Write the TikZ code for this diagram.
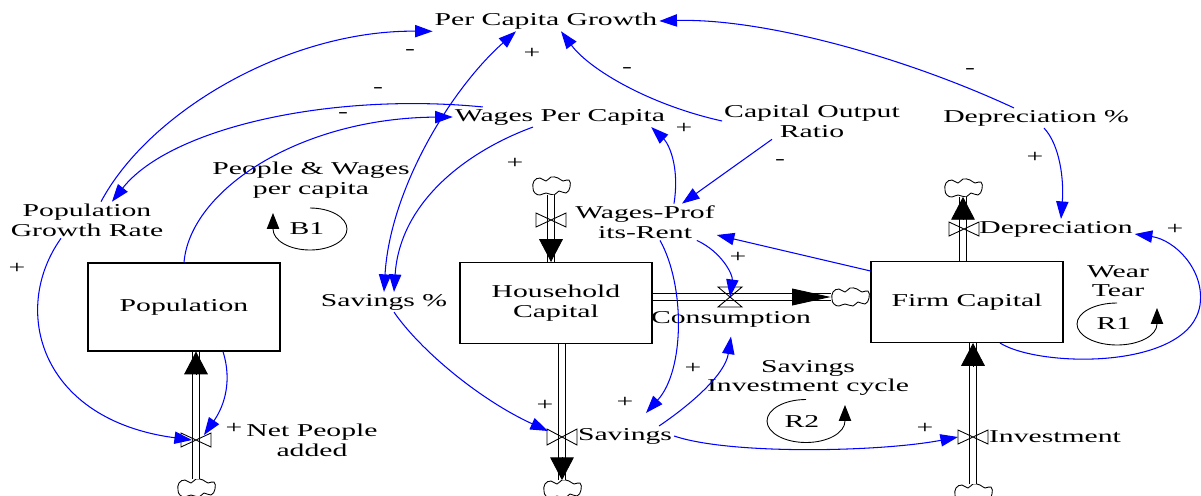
\documentclass[tikz,border=0pt]{standalone}
\usepackage{fontspec}
\setmainfont{Liberation Serif}[FakeStretch=1.64]
\usetikzlibrary{arrows.meta}

\tikzset{
  var/.style={inner sep=1pt, align=center, font=\fontsize{10.3}{11.2}\selectfont},
  stock/.style={var, draw, line width=0.6pt, minimum width=3.84cm},
  sign/.style={inner sep=0pt, font=\fontsize{10.3}{11.2}\selectfont},
  link/.style={blue, line width=0.6pt, -{Triangle[length=10pt,width=7pt]}},
  linkboth/.style={link, {Triangle[length=10pt,width=7pt]}-{Triangle[length=10pt,width=7pt]}},
  pipe/.style={double, double distance=3.2pt, line width=0.5pt},
  pipehead/.style={line width=0.5pt, -{Triangle[length=13pt,width=13.5pt]}},
  pipeheadh/.style={line width=0.5pt, -{Triangle[length=22pt,width=9.6pt]}},
  valve/.style={line width=0.5pt},
  sink/.style={inner sep=0pt, minimum width=0.76cm, minimum height=0.34cm},
  sinkline/.style={line width=0.5pt},
  loopline/.style={line width=0.5pt, -{Triangle[length=9pt,width=7pt]}}
}
\newcommand{\sinkcloud}[1]{\draw[sinkline, shift={(#1)}] plot[smooth cycle, tension=0.8]
  coordinates {(-18,2) (-17,-5) (-11,-8) (-5,-5) (0,-9) (7,-8) (12,-5) (18,-6) (19,1) (15,7) (8,5) (3,9) (-5,7) (-11,9) (-16,7)};}

\begin{document}
\begin{tikzpicture}[x=0.02cm,y=-0.02cm]
  \useasboundingbox (0,0) rectangle (1201,495);

  % stocks
  \node[stock, minimum height=1.76cm] (pop) at (184,307) {Population};
  \node[stock, minimum height=1.62cm] (hh) at (556,303) {Household\\Capital};
  \node[stock, minimum height=1.62cm] (firm) at (967,302) {Firm Capital};

  % variables
  \node[var] (pcg) at (546,21) {Per Capita Growth};
  \node[var] (wpc) at (560,117) {Wages Per Capita};
  \node[var] (cor) at (812,121) {Capital Output\\Ratio};
  \node[var] (dpct) at (1036,118) {Depreciation \%};
  \node[var] (pgr) at (87,220) {Population\\Growth Rate};
  \node[var] (pwlbl) at (311,180) {People \& Wages\\per capita};
  \node[var] (savp) at (384,302) {Savings \%};
  \node[var] (wpr) at (645,222) {Wages-Prof\\its-Rent};
  \node[var] (cons) at (731,319) {Consumption};
  \node[var] (savl) at (625,436) {Savings};
  \node[var] (inv) at (1055,437) {Investment};
  \node[var] (depr) at (1056,229) {Depreciation};
  \node[var] (npa) at (312,440) {Net People\\added};
  \node[var] (sic) at (808,378) {Savings\\Investment cycle};
  \node[var] (wt) at (1118,281) {Wear\\Tear};

  % clouds and valves
  \node[sink] (cnp) at (196,488) {};
  \node[sink] (cwpr) at (551,186) {};
  \node[sink] (csav) at (562,489) {};
  \node[sink] (ccons) at (850,297) {};
  \node[sink] (cinv) at (973,493) {};
  \node[sink] (cdep) at (963,188) {};
  \sinkcloud{cnp} \sinkcloud{cwpr} \sinkcloud{csav}
  \sinkcloud{ccons} \sinkcloud{cinv} \sinkcloud{cdep}
  \coordinate (vnp) at (196,440);
  \coordinate (vwpr) at (551,220);
  \coordinate (vsav) at (562,437);
  \coordinate (vcons) at (730,297);
  \coordinate (vinv) at (973,437);
  \coordinate (vdep) at (964,229);

  % pipes
  \coordinate (npend) at (cnp.north |- pop.south);
  \draw[pipe] (cnp.north) -- (npend);
  \draw[pipehead] ([yshift=-0.46cm]npend) -- (npend);
  \coordinate (wprend) at (cwpr.south |- hh.north);
  \draw[pipe] (cwpr.south) -- (wprend);
  \draw[pipehead] ([yshift=0.46cm]wprend) -- (wprend);
  \coordinate (savstart) at (csav.north |- hh.south);
  \draw[pipe] (savstart) -- (csav.north);
  \draw[pipehead] ([yshift=0.46cm]csav.north) -- (csav.north);
  \coordinate (consstart) at (hh.east |- ccons.west);
  \draw[pipe] (consstart) -- (ccons.west);
  \draw[pipeheadh] ([xshift=-0.78cm]ccons.west) -- (ccons.west);
  \coordinate (invend) at (cinv.north |- firm.south);
  \draw[pipe] (cinv.north) -- (invend);
  \draw[pipehead] ([yshift=-0.46cm]invend) -- (invend);
  \coordinate (depstart) at (cdep.south |- firm.north);
  \draw[pipe] (depstart) -- (cdep.south);
  \draw[pipehead] ([yshift=-0.46cm]cdep.south) -- (cdep.south);

  \draw[valve] (vnp) ++(-15,-7) -- ++(0,14) -- ++(30,-14) -- ++(0,14) -- cycle;
  \draw[valve] (vwpr) ++(-15,-7) -- ++(0,14) -- ++(30,-14) -- ++(0,14) -- cycle;
  \draw[valve] (vsav) ++(-15,-8) -- ++(0,16) -- ++(30,-16) -- ++(0,16) -- cycle;
  \draw[valve] (vinv) ++(-15,-7) -- ++(0,14) -- ++(30,-14) -- ++(0,14) -- cycle;
  \draw[valve] (vdep) ++(-15,-7) -- ++(0,14) -- ++(30,-14) -- ++(0,14) -- cycle;
  \draw[valve] (vcons) ++(-12,-10) -- ++(24,0) -- ++(-24,20) -- ++(24,0) -- cycle;

  % causal links
  \draw[link] ([xshift=0.28cm]pgr.north) .. controls (150,110) and (290,30) .. (pcg.south west);
  \draw[link] ([xshift=0.6cm]wpc.north west) .. controls (330,92) and (170,128) .. ([xshift=0.5cm]pgr.north);
  \draw[link] (pop.north) .. controls (190,190) and (300,118) .. (wpc.west);
  \draw[linkboth] (savp.north) .. controls (390,190) and (450,90) .. ([xshift=-0.6cm]pcg.south);
  \draw[link] ([xshift=-0.54cm]wpc.south) .. controls (470,150) and (400,200) .. ([xshift=0.2cm]savp.north);
  \draw[link] (cor.west) .. controls (650,105) and (590,70) .. ([xshift=0.3cm]pcg.south);
  \draw[link] ([xshift=-0.8cm]cor.south) -- ([xshift=0.74cm]wpr.north);
  \draw[link] ([xshift=0.58cm]wpr.north) .. controls (680,165) and (668,143) .. ([xshift=-0.32cm]wpc.south east);
  \draw[link] ([xshift=-0.44cm]dpct.north) .. controls (900,55) and (760,18) .. (pcg.east);
  \draw[link] ([xshift=0.16cm]dpct.south) .. controls (1060,145) and (1064,180) .. ([xshift=0.1cm]depr.north);
  \draw[link] ([xshift=0.66cm]firm.south) .. controls (1040,368) and (1190,370) .. (1200,305)
    .. controls (1205,270) and (1175,240) .. ([yshift=-0.1cm]depr.east);
  \draw[link] ([yshift=-0.2cm]firm.north west) -- ([yshift=-0.26cm]wpr.east);
  \draw[link] ([xshift=-0.4cm]wpr.south east) .. controls (722,252) and (733,275) .. (vcons);
  \draw[link] ([xshift=0.3cm]wpr.south) .. controls (685,285) and (685,370) .. ([xshift=0.42cm,yshift=0.26cm]savl.north);
  \draw[link] ([xshift=-0.3cm]savl.north east) .. controls (690,405) and (725,375) .. ([yshift=-0.15cm]cons.south);
  \draw[link] ([xshift=0.2cm]savp.south) .. controls (420,350) and (480,400) .. ([xshift=-0.28cm,yshift=0.12cm]vsav);
  \draw[link] (savl.east) .. controls (730,455) and (880,452) .. ([xshift=-0.3cm]vinv);
  \draw[link] ([xshift=-0.52cm]pgr.south) .. controls (10,310) and (40,420) .. ([xshift=-0.08cm]vnp);
  \draw[link] ([xshift=0.78cm]pop.south) .. controls (232,380) and (225,405) .. ([xshift=0.16cm,yshift=0.1cm]vnp);

  % polarities
  \node[sign] (s1) at (410,52) {-};
  \node[sign] (s2) at (378,90) {-};
  \node[sign] (s3) at (343,115) {-};
  \node[sign] (s4) at (532,53) {+};
  \node[sign] (s5) at (515,163) {+};
  \node[sign] (s6) at (627,70) {-};
  \node[sign] (s7) at (780,162) {-};
  \node[sign] (s8) at (684,128) {+};
  \node[sign] (s9) at (970,71) {-};
  \node[sign] (s10) at (1035,157) {+};
  \node[sign] (s11) at (1175,229) {+};
  \node[sign] (s12) at (738,257) {+};
  \node[sign] (s13) at (625,402) {+};
  \node[sign] (s14) at (693,368) {+};
  \node[sign] (s15) at (545,405) {+};
  \node[sign] (s16) at (925,428) {+};
  \node[sign] (s17) at (17,268) {+};
  \node[sign] (s18) at (234,428) {+};

  % loops
  \node[var] (lb1) at (307,229) {B1};
  \draw[loopline] ([xshift=0.06cm,yshift=0.42cm]lb1.center) arc[start angle=90, end angle=-180, x radius=0.74cm, y radius=0.42cm] -- ++(0,-16);
  \node[var] (lr2) at (802,421) {R2};
  \draw[loopline] ([xshift=0.08cm,yshift=0.43cm]lr2.center) arc[start angle=90, end angle=360, x radius=0.78cm, y radius=0.43cm] -- ++(0,-16);
  \node[var] (lr1) at (1114,324) {R1};
  \draw[loopline] ([xshift=0.06cm,yshift=0.42cm]lr1.center) arc[start angle=90, end angle=360, x radius=0.8cm, y radius=0.42cm] -- ++(0,-16);
\end{tikzpicture}
\end{document}
